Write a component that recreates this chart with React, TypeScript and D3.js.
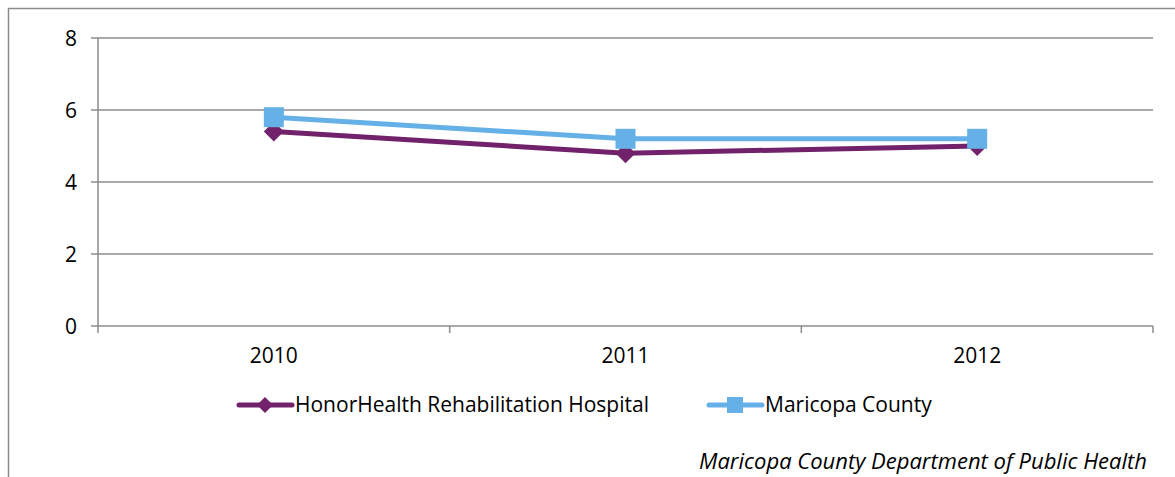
import React from "react";
import * as d3 from "d3";

const categories = ["2010", "2011", "2012"];
const honorHealth = [5.4, 4.8, 5.0];
const maricopa = [5.8, 5.2, 5.2];
const yTicks = [0, 2, 4, 6, 8];
const seriesNames = ["HonorHealth Rehabilitation Hospital", "Maricopa County"];
const sourceNote = "Maricopa County Department of Public Health";

const W = 1175;
const H = 477;
const PURPLE = "#71226A";
const BLUE = "#65B0E6";
const GRID = "#8C8C8C";
const FONT = "'Open Sans', 'Noto Sans', sans-serif";

export default function App() {
  const left = 98;
  const right = 1153;
  const top = 38;
  const bottom = 326;

  const x = d3.scaleBand<string>().domain(categories).range([left, right]).padding(0);
  const y = d3.scaleLinear().domain([0, 8]).range([bottom, top]);
  const cx = (c: string) => (x(c) as number) + x.bandwidth() / 2;

  const line = d3
    .line<number>()
    .x((_, i) => cx(categories[i]))
    .y((v) => y(v));

  const diamond = (px: number, py: number, r: number) =>
    `M${px},${py - r}L${px + r},${py}L${px},${py + r}L${px - r},${py}Z`;

  const boundaries = [...categories.map((c) => x(c) as number), right];

  return (
    <svg
      width={W}
      height={H}
      style={{ position: "absolute", left: 0, top: 0, background: "#fff" }}
      fontFamily={FONT}
    >
      <rect x={0} y={0} width={W} height={H} fill="#fff" />
      {/* outer border */}
      <line x1={8.5} y1={8} x2={8.5} y2={H} stroke={GRID} strokeWidth={1.5} />
      <line x1={8} y1={8.5} x2={W} y2={8.5} stroke={GRID} strokeWidth={1.5} />

      {/* gridlines and y ticks */}
      {yTicks.map((t) => (
        <g key={t}>
          <line x1={left} x2={right} y1={y(t)} y2={y(t)} stroke={GRID} strokeWidth={1.5} />
          <line x1={91} x2={left} y1={y(t)} y2={y(t)} stroke={GRID} strokeWidth={1.5} />
          <text x={77} y={y(t) + 7.5} textAnchor="end" fontSize={21} fill="#000">
            {t}
          </text>
        </g>
      ))}
      {/* y axis */}
      <line x1={left} x2={left} y1={top} y2={bottom} stroke={GRID} strokeWidth={1.5} />
      {/* category ticks */}
      {boundaries.map((b, i) => (
        <line key={i} x1={b} x2={b} y1={bottom} y2={bottom + 7} stroke={GRID} strokeWidth={1.5} />
      ))}
      {categories.map((c) => (
        <text key={c} x={cx(c)} y={363} textAnchor="middle" fontSize={21} fill="#000">
          {c}
        </text>
      ))}

      {/* HonorHealth series */}
      <path d={line(honorHealth) || ""} fill="none" stroke={PURPLE} strokeWidth={5} strokeLinejoin="round" />
      {honorHealth.map((v, i) => (
        <path key={i} d={diamond(cx(categories[i]), y(v), 10)} fill={PURPLE} />
      ))}
      {/* Maricopa series */}
      <path d={line(maricopa) || ""} fill="none" stroke={BLUE} strokeWidth={5} strokeLinejoin="round" />
      {maricopa.map((v, i) => (
        <rect key={i} x={cx(categories[i]) - 10} y={y(v) - 10} width={20} height={20} fill={BLUE} />
      ))}

      {/* legend */}
      <g>
        <line x1={239} x2={292} y1={405} y2={405} stroke={PURPLE} strokeWidth={5} strokeLinecap="round" />
        <path d={diamond(265, 405, 8)} fill={PURPLE} />
        <text x={295} y={412} fontSize={21} fill="#000">
          {seriesNames[0]}
        </text>
        <line x1={709} x2={762} y1={405} y2={405} stroke={BLUE} strokeWidth={5} strokeLinecap="round" />
        <rect x={727} y={397} width={16} height={16} fill={BLUE} />
        <text x={765} y={412} fontSize={21} fill="#000">
          {seriesNames[1]}
        </text>
      </g>

      <text x={1147} y={469} textAnchor="end" fontSize={22} fontStyle="italic" fill="#000">
        {sourceNote}
      </text>
    </svg>
  );
}
